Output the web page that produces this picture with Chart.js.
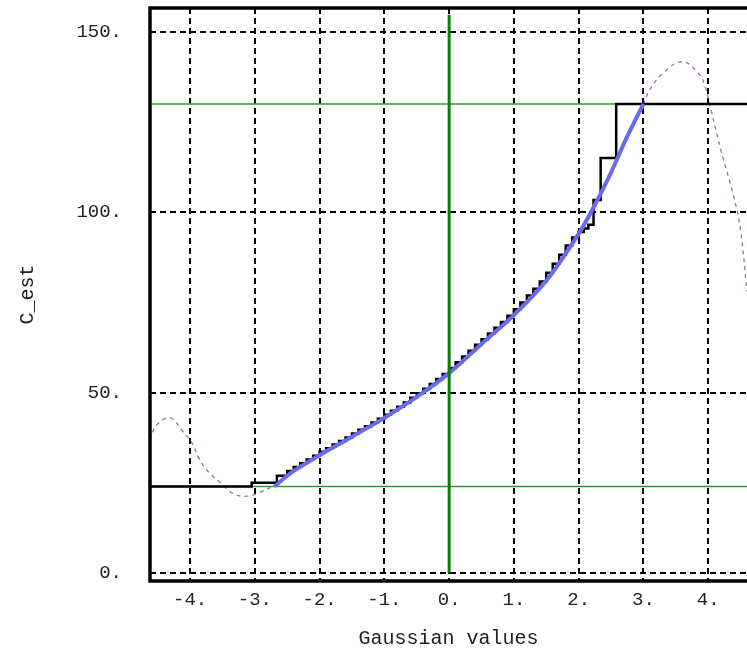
<!DOCTYPE html>
<html>
<head>
<meta charset="utf-8">
<script src="https://cdn.jsdelivr.net/npm/chart.js@4/dist/chart.umd.min.js"></script>
<style>
  html, body { margin: 0; padding: 0; background: #fff; }
  #wrap { width: 747px; height: 655px; }
</style>
</head>
<body>
<div id="wrap"><canvas id="chart" width="747" height="655"></canvas></div>
<script>
// axis range (the picture is cut off on the right)
var xMin = -4.62, xMax = 4.6;
var yMin = -2.2, yMax = 156.6;

// smooth estimated curve (blue)
var curveX = [-2.7, -2.4, -2.0, -1.5, -1.0, -0.5, 0.0, 0.5, 1.0, 1.5, 2.0, 2.25, 2.5, 2.75, 3.0];
var curveY = [24, 28.3, 32.7, 37.8, 43, 48.8, 55.4, 63.5, 71.5, 81, 94, 102, 111, 121, 130];

// empirical step function (black): x = right end of each flat piece, y = its level
var stepX = [-4.62, -3.05, -2.66, -2.5,
             -2.4, -2.3, -2.2, -2.1, -2.0, -1.9, -1.8, -1.7, -1.6, -1.5, -1.4, -1.3, -1.2,
             -1.1, -1.0, -0.9, -0.8, -0.7, -0.6, -0.5, -0.4, -0.3, -0.2, -0.1, 0.0,
             0.1, 0.2, 0.3, 0.4, 0.5, 0.6, 0.7, 0.8, 0.9, 1.0,
             1.1, 1.2, 1.3, 1.4, 1.5, 1.6, 1.7, 1.8, 1.9, 2.0,
             2.08, 2.15, 2.23, 2.34, 2.58, 4.6];
var stepY = [24, 24, 25, 27,
             28.3, 29.4, 30.4, 31.5, 32.5, 33.6, 34.6, 35.6, 36.6, 37.6, 38.7, 39.7, 40.7,
             41.7, 42.8, 43.9, 45, 46.1, 47.3, 48.6, 49.8, 51.1, 52.4, 53.8, 55.2,
             56.8, 58.4, 60, 61.6, 63.3, 64.8, 66.4, 68, 69.6, 71.3,
             73.1, 75, 76.9, 78.8, 80.8, 83.2, 85.7, 88.2, 90.8, 93,
             94.5, 95.5, 96.5, 103.4, 115, 130];

// polynomial fit (purple dashed)
var fitX = [-4.62, -4.52, -4.31, -4.13, -3.97, -3.87, -3.74, -3.53, -3.33, -3.12, -2.92, -2.72, -2.4, -2.0, -1.5, -1.0, -0.5, 0.0,
            0.5, 1.0, 1.5, 2.0, 2.5, 3.0, 3.1, 3.3, 3.6, 3.85, 3.95, 4.05, 4.2, 4.4, 4.5, 4.6];
var fitY = [36.9, 41, 43, 39.6, 36, 32, 28.5, 25, 22, 21.3, 22.4, 24.2, 28.3, 32.7, 37.8, 43, 48.8, 55.4,
            63.5, 71.5, 81, 94, 111, 130, 134, 138.5, 141.7, 138.5, 135, 128, 117, 104, 95, 78];

// reference lines (green)
var hLevels = [130, 24];
var vLineX = 0, vLineTop = 154.7;

function pts(xs, ys) {
  return xs.map(function (x, i) { return { x: x, y: ys[i] }; });
}

var frame = {
  id: 'frame',
  afterDraw: function (chart) {
    var a = chart.chartArea, ctx = chart.ctx;
    ctx.save();
    ctx.strokeStyle = '#000';
    ctx.lineWidth = 3.5;
    ctx.setLineDash([]);
    ctx.beginPath();
    ctx.moveTo(a.right + 5, a.top);
    ctx.lineTo(a.left, a.top);
    ctx.lineTo(a.left, a.bottom);
    ctx.lineTo(a.right + 5, a.bottom);
    ctx.stroke();
    ctx.restore();
  }
};

var datasets = [
  { data: [{ x: vLineX, y: 0 }, { x: vLineX, y: vLineTop }], borderColor: '#0a7d0a', borderWidth: 3, order: 0 },
  { data: pts(curveX, curveY), borderColor: '#6a6af0', borderWidth: 4, tension: 0.3, order: 1 },
  { data: pts(stepX, stepY), borderColor: '#000', borderWidth: 2.5, stepped: 'after', order: 2 },
  { data: pts(fitX, fitY), borderColor: '#a868b0', borderWidth: 1.3, borderDash: [4, 4], tension: 0.4, order: 3 }
];
hLevels.forEach(function (v) {
  datasets.push({ data: [{ x: xMin, y: v }, { x: xMax, y: v }], borderColor: '#2f9a2f', borderWidth: 1.5, order: 4 });
});
datasets.forEach(function (d) { d.pointRadius = 0; d.fill = false; });

var tickFont = { family: "'Liberation Mono', 'DejaVu Sans Mono', monospace", size: 19 };
var titleFont = { family: "'Liberation Mono', 'DejaVu Sans Mono', monospace", size: 20 };

var ctx = document.getElementById('chart');
var myChart = new Chart(ctx, {
  type: 'line',
  data: { datasets: datasets },
  options: {
    responsive: false,
    animation: false,
    layout: { padding: { top: 8, right: 0, left: 0, bottom: 0 } },
    plugins: { legend: { display: false }, tooltip: { enabled: false } },
    scales: {
      x: {
        type: 'linear', min: xMin, max: xMax,
        afterFit: function (s) { s.height = 74; s.paddingLeft = 0; s.paddingRight = 0; },
        ticks: {
          stepSize: 1, includeBounds: false, color: '#222', font: tickFont, padding: 8, maxRotation: 0,
          callback: function (v) { return Math.round(v) + '.'; }
        },
        grid: { color: '#000', lineWidth: 2, drawTicks: false },
        border: { display: false, dash: [6, 4] },
        title: { display: true, text: 'Gaussian values', color: '#222', font: titleFont, padding: { top: 0, bottom: 4 } }
      },
      y: {
        type: 'linear', min: yMin, max: yMax,
        afterFit: function (s) { s.width = 150; s.paddingTop = 0; s.paddingBottom = 0; },
        ticks: {
          stepSize: 50, includeBounds: false, color: '#222', font: tickFont, padding: 28,
          callback: function (v) { return Math.round(v) + '.'; }
        },
        grid: { color: '#000', lineWidth: 2, drawTicks: false },
        border: { display: false, dash: [6, 4] },
        title: { display: true, text: 'C_est', color: '#222', font: titleFont, padding: { top: 16, bottom: 0 } }
      }
    }
  },
  plugins: [frame]
});
</script>
</body>
</html>
